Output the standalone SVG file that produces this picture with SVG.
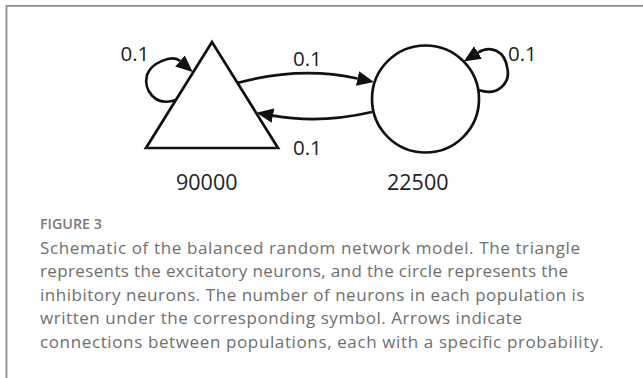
<svg xmlns="http://www.w3.org/2000/svg" width="643" height="378" viewBox="0 0 643 378">
  <style>
    .shape { fill: none; stroke: #111; stroke-width: 2.7; }
    .conn { fill: none; stroke: #111; stroke-width: 2.7; }
    .lbl { font-family: "Open Sans", "Noto Sans", sans-serif; font-size: 20.5px; fill: #222; }
    .num { font-family: "Open Sans", "Noto Sans", sans-serif; font-size: 21.5px; fill: #222; }
    .cap { font-family: "Open Sans", "Noto Sans", sans-serif; font-size: 17px; fill: #6e6e6e; }
    .fig { font-family: "Open Sans", "Noto Sans", sans-serif; font-size: 14px; font-weight: 600; fill: #7a7a7a; }
  </style>
  <defs>
    <marker id="arrow" markerUnits="userSpaceOnUse" markerWidth="18" markerHeight="18" viewBox="0 -8 16 16" refX="0" refY="0" orient="auto">
      <path d="M0,-6.5 L15,0 L0,6.5 z" fill="#111"/>
    </marker>
  </defs>
  <rect width="643" height="378" fill="#fff"/>
  <g id="frame" fill="none" stroke="#8f8f8f" stroke-width="1.8">
    <path d="M6.5,378 L6.5,5.9 L643,5.9"/>
  </g>
  <g id="connectors">
    <path class="conn" d="M176,100 C155,107 143,90 147,75 C151,63 172,54 180,61" marker-end="url(#arrow)"/>
    <path class="conn" d="M478.5,90 C499,97 510,82 507.5,69 C505,50 490,45 478,52.5" marker-end="url(#arrow)"/>
    <path class="conn" d="M237,83 Q300,66 357.5,78.5" marker-end="url(#arrow)"/>
    <path class="conn" d="M372,112 Q320,124 273,115.6" marker-end="url(#arrow)"/>
  </g>
  <g id="excitatory">
    <polygon class="shape" points="212,42 146,148 278,148"/>
    <text class="num" x="176" y="190">90000</text>
  </g>
  <g id="inhibitory">
    <circle class="shape" cx="425.5" cy="99" r="53.5"/>
    <text class="num" x="387" y="190">22500</text>
  </g>
  <g id="labels">
    <text class="lbl" x="120.5" y="61">0.1</text>
    <text class="lbl" x="293" y="66">0.1</text>
    <text class="lbl" x="293" y="154.5">0.1</text>
    <text class="lbl" x="508" y="61">0.1</text>
  </g>
  <g id="caption">
    <text class="fig" x="40" y="229" textLength="62" lengthAdjust="spacingAndGlyphs">FIGURE 3</text>
    <text class="cap" x="40" y="253.5" textLength="540" lengthAdjust="spacing">Schematic of the balanced random network model. The triangle</text>
    <text class="cap" x="40" y="277" textLength="528" lengthAdjust="spacing">represents the excitatory neurons, and the circle represents the</text>
    <text class="cap" x="40" y="300.5" textLength="544.5" lengthAdjust="spacing">inhibitory neurons. The number of neurons in each population is</text>
    <text class="cap" x="40" y="324" textLength="482" lengthAdjust="spacing">written under the corresponding symbol. Arrows indicate</text>
    <text class="cap" x="40" y="347.5" textLength="563.5" lengthAdjust="spacing">connections between populations, each with a specific probability.</text>
  </g>
</svg>
